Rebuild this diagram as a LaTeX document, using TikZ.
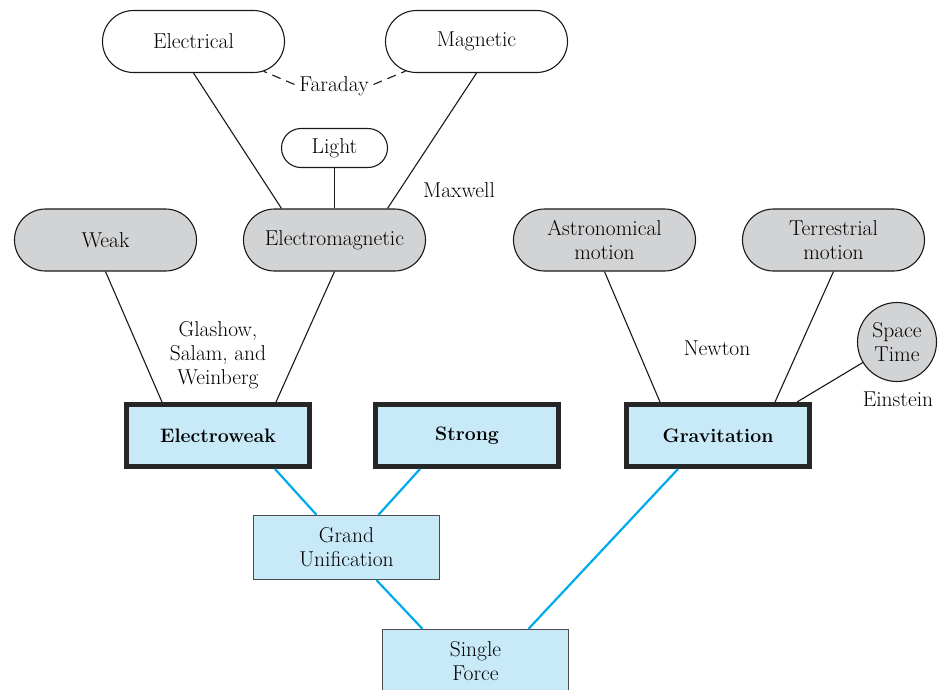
\documentclass[tikz,border=0pt]{standalone}
\usetikzlibrary{shapes.misc,calc}
\definecolor{forcegray}{RGB}{210,211,213}
\definecolor{forceblue}{RGB}{199,233,248}
\definecolor{linkblue}{RGB}{0,170,236}
\begin{document}
\begin{tikzpicture}[x=1pt,y=-1pt,font=\fontsize{21.5}{24}\selectfont]
		\tikzstyle{pill}=[rounded rectangle,draw=black!90,line width=1.1pt,minimum width=186pt,minimum height=62pt,inner sep=2pt,align=center]
		\tikzstyle{greypill}=[pill,fill=forcegray]
		\tikzstyle{force}=[rectangle,draw=black!85,line width=5pt,fill=forceblue,minimum width=183pt,minimum height=62pt,font=\fontsize{19.5}{24}\selectfont\bfseries]
		\tikzstyle{unified}=[rectangle,draw=black!70,line width=1.3pt,fill=forceblue,minimum width=186pt,minimum height=64pt,align=center]
		\tikzstyle{physicist}=[align=center,inner sep=1pt]
		\tikzstyle{edge}=[draw=black!90,line width=1.1pt]
		\tikzstyle{dashedge}=[edge,dash pattern=on 9pt off 6pt]
		\tikzstyle{link}=[draw=linkblue,line width=2.2pt]

		 \useasboundingbox (0,0) rectangle (942,689);

		 % classical forces
		 \node [pill] (elec) at (193.5,41.5) {Electrical};
		 \node [pill] (magn) at (476.5,41.5) {Magnetic};
		 \node [physicist] (faraday) at (334,86) {Faraday};
		 \node [pill,minimum width=110pt,minimum height=39pt] (light) at (334.5,148) {Light};
		 \node [physicist] (maxwell) at (459,190) {Maxwell};

		 \node [greypill] (weak) at (105.5,240) {Weak};
		 \node [greypill] (em) at (334.5,240) {Electromagnetic};
		 \node [greypill] (astro) at (604.5,240) {Astronomical\\motion};
		 \node [greypill] (terr) at (833.5,240) {Terrestrial\\motion};
		 \node [circle,draw=black!90,line width=1.1pt,fill=forcegray,minimum size=79pt,inner sep=0pt,align=center] (st) at (897,342) {Space\\Time};

		 \node [physicist] (gsw) at (218,355) {Glashow,\\Salam, and\\Weinberg};
		 \node [physicist] (newton) at (717,348) {Newton};
		 \node [physicist] (einstein) at (898,399) {Einstein};

		 % modern forces
		 \node [force] (ew) at (218,435.5) {Electroweak};
		 \node [force] (strong) at (467,435.5) {Strong};
		 \node [force] (grav) at (718,435.5) {Gravitation};
		 \node [unified] (gut) at (346.5,547.5) {Grand\\Unification};
		 \node [unified] (single) at (475.5,661.5) {Single\\Force};

		 \path[dashedge,shorten <=4pt] (faraday.west) -- (elec);
		 \path[dashedge,shorten <=4pt] (faraday.east) -- (magn);
		 \path[edge] (elec.south) -- ($(em.north)+(-53,0)$);
		 \path[edge] (magn.south) -- ($(em.north)+(53,0)$);
		 \path[edge] (light.south) -- (em.north);
		 \path[edge] (weak.south) -- ($(ew.north)+(-56,0)$);
		 \path[edge] (em.south) -- ($(ew.north)+(58,0)$);
		 \path[edge] (astro.south) -- ($(grav.north)+(-58,0)$);
		 \path[edge] (terr.south) -- ($(grav.north)+(57,0)$);
		 \path[edge] (st) -- ($(grav.north)+(79,0)$);

		 \path[link] ($(ew.south)+(57,0)$) -- ($(gut.north)+(-30,0)$);
		 \path[link] ($(strong.south)+(-47,0)$) -- ($(gut.north)+(32,0)$);
		 \path[link] ($(gut.south)+(30,0)$) -- ($(single.north)+(-53,0)$);
		 \path[link] ($(grav.south)+(-40,0)$) -- ($(single.north)+(53,0)$);

	\end{tikzpicture}
\end{document}
